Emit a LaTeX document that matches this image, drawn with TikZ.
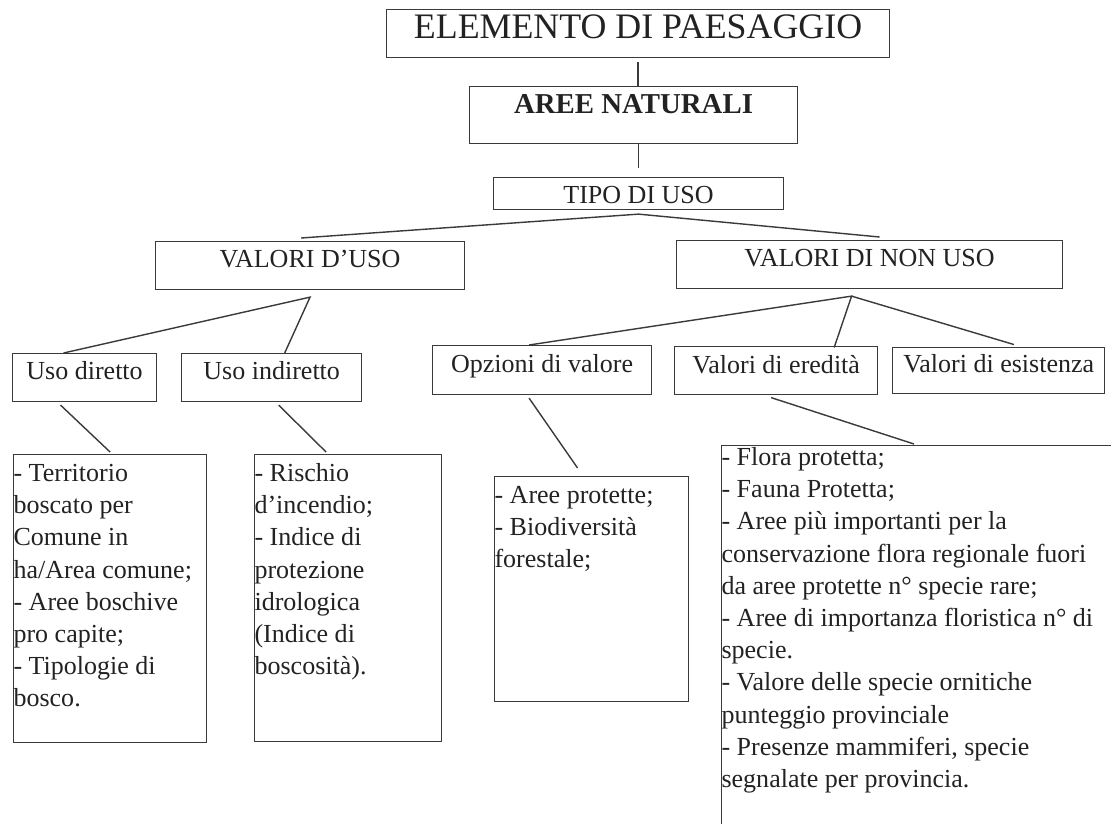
\documentclass[tikz,border=0pt]{standalone}
\usepackage{fontspec}
\setmainfont{Liberation Serif}
\usepackage{xcolor}
\definecolor{inkgray}{HTML}{222222}
\definecolor{linegray}{HTML}{3A3A3A}
\usepackage{tikz}
\usetikzlibrary{positioning}
\newlength{\pxu}
\setlength{\pxu}{0.025cm}
\newcommand{\boxlist}[3]{\parbox[t][#2\pxu][t]{#1\pxu}{\raggedright #3}}
\tikzset{
  hbox/.style ={rectangle, draw=linegray, line width=0.8pt, text=inkgray, inner xsep=2pt, inner ysep=0pt,
                anchor=north west, font=\fontsize{18.5}{22}\selectfont, text height=26\pxu, text depth=22\pxu},
  tbox/.style ={hbox, font=\fontsize{25.5}{30}\selectfont, text height=29\pxu, text depth=19\pxu},
  nbox/.style ={hbox, font=\fontsize{20.5}{24}\selectfont\bfseries, text height=27\pxu, text depth=30\pxu},
  lbox/.style ={rectangle, draw=linegray, line width=0.8pt, text=inkgray, inner sep=0pt, anchor=north west,
                font=\fontsize{18.5}{22.9}\selectfont},
  conn/.style ={draw=linegray, line width=1pt},
}
\begin{document}
\begin{tikzpicture}[x=1\pxu, y=-1\pxu]
  \useasboundingbox (0,0) rectangle (1111,823);
  \clip (0,0) rectangle (1111,823);
  \node[tbox, minimum width=503\pxu] (top) at (386,9) {ELEMENTO DI PAESAGGIO};
  \node[nbox, minimum width=328\pxu] (an) at (469,86) {AREE NATURALI};
  \node[hbox, minimum width=290\pxu, text depth=6\pxu] (tipo) at (493,177) {TIPO DI USO};
  \node[hbox, minimum width=309\pxu] (vu) at (155,241) {VALORI D’USO};
  \node[hbox, minimum width=386\pxu] (vnu) at (676,240) {VALORI DI NON USO};
  \node[hbox, minimum width=144\pxu] (ud) at (12,353) {Uso diretto};
  \node[hbox, minimum width=180\pxu, right=24\pxu of ud] (ui) {Uso indiretto};
  \node[hbox, minimum width=219\pxu, text height=27\pxu] (ov) at (432,345) {Opzioni di valore};
  \node[hbox, minimum width=203\pxu, text height=27\pxu, text depth=21\pxu, right=22\pxu of ov] (ve) {Valori di eredità};
  \node[hbox, minimum width=212\pxu, text height=25\pxu, text depth=21\pxu, right=14\pxu of ve] (vs) {Valori di esistenza};
  \node[lbox] (l1) at (13,454) {\boxlist{193}{288}{\rule{0pt}{27\pxu}- Territorio\\ boscato per\\ Comune in\\ ha/Area comune;\\ - Aree boschive\\ pro capite;\\ - Tipologie di\\ bosco.}};
  \node[lbox] (l2) at (254,454) {\boxlist{187}{287}{\rule{0pt}{27\pxu}- Rischio\\ d’incendio;\\ - Indice di\\ protezione\\ idrologica\\ (Indice di\\ boscosità).}};
  \node[lbox] (l3) at (494,476) {\boxlist{194}{225}{\rule{0pt}{27\pxu}- Aree protette;\\ - Biodiversità\\ forestale;}};
  \node[lbox] (l4) at (721,445) {\boxlist{420}{400}{\rule{0pt}{20\pxu}- Flora protetta;\\ - Fauna Protetta;\\ - Aree più importanti per la\\ conservazione flora regionale fuori\\ da aree protette n° specie rare;\\ - Aree di importanza floristica n° di\\ specie.\\ - Valore delle specie ornitiche\\ punteggio provinciale\\ - Presenze mammiferi, specie\\ segnalate per provincia.}};
  \coordinate (tipoapx) at ([yshift=-4\pxu]tipo.south);
  \coordinate (vuapx) at ([yshift=-7\pxu]vu.south);
  \coordinate (vnuapx) at ([xshift=-18\pxu, yshift=-7\pxu]vnu.south);
  \draw[conn] ([yshift=-4\pxu]top.south) -- (top.south |- an.north);
  \draw[conn] (tipo.north |- an.south) -- ([yshift=9\pxu]tipo.north);
  \draw[conn] ([xshift=-9\pxu, yshift=3\pxu]vu.north) -- (tipoapx) -- ([xshift=10\pxu, yshift=3\pxu]vnu.north);
  \draw[conn] ([xshift=-21\pxu]ud.north) -- (vuapx) -- ([xshift=13\pxu]ui.north);
  \draw[conn] ([xshift=-13\pxu]ov.north) -- (vnuapx) -- ([xshift=58\pxu, yshift=-2\pxu]ve.north);
  \draw[conn] (vnuapx) -- ([xshift=15\pxu, yshift=2\pxu]vs.north);
  \draw[conn] ([xshift=-24\pxu, yshift=-3\pxu]ud.south) -- ([yshift=2\pxu]l1.north);
  \draw[conn] ([xshift=7\pxu, yshift=-3\pxu]ui.south) -- ([xshift=-22\pxu, yshift=2\pxu]l2.north);
  \draw[conn] ([xshift=-13\pxu, yshift=-3\pxu]ov.south) -- ([xshift=-14\pxu, yshift=8\pxu]l3.north);
  \draw[conn] ([xshift=-5\pxu, yshift=-3\pxu]ve.south) -- ([xshift=193\pxu, yshift=1\pxu]l4.north west);
\end{tikzpicture}
\end{document}
